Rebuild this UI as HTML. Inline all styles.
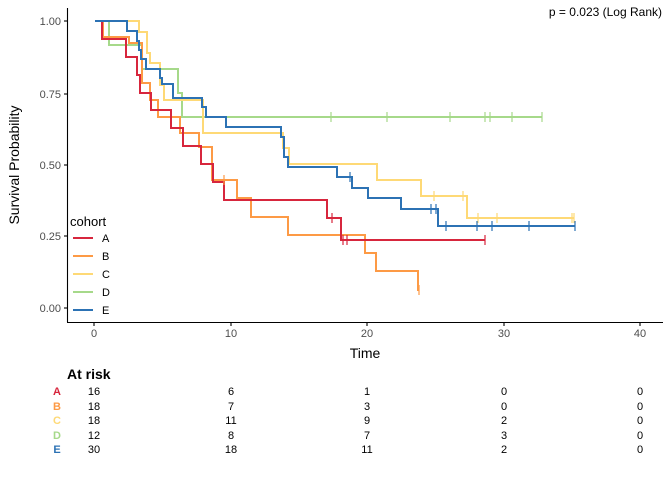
<!DOCTYPE html><html><head><meta charset="utf-8"><style>body{margin:0;background:#fff}svg{display:block;font-family:"Liberation Sans",sans-serif}</style></head><body>
<svg width="672" height="480" viewBox="0 0 672 480">
<g stroke="#000" stroke-width="1.1" fill="none">
<line x1="67.5" y1="8" x2="67.5" y2="322"/><line x1="67" y1="322.5" x2="663" y2="322.5"/>
<line x1="64" y1="21" x2="67" y2="21"/><line x1="64" y1="94" x2="67" y2="94"/><line x1="64" y1="165" x2="67" y2="165"/><line x1="64" y1="236" x2="67" y2="236"/><line x1="64" y1="308" x2="67" y2="308"/>
<line x1="94" y1="322" x2="94" y2="326"/><line x1="231" y1="322" x2="231" y2="326"/><line x1="367" y1="322" x2="367" y2="326"/><line x1="504" y1="322" x2="504" y2="326"/><line x1="640" y1="322" x2="640" y2="326"/>
</g>
<g font-size="11" fill="#4d4d4d" text-anchor="end"><text x="61" y="25">1.00</text><text x="61" y="98">0.75</text><text x="61" y="169">0.50</text><text x="61" y="240">0.25</text><text x="61" y="312">0.00</text></g>
<g font-size="11" fill="#4d4d4d" text-anchor="middle"><text x="94" y="337">0</text><text x="231" y="337">10</text><text x="367" y="337">20</text><text x="504" y="337">30</text><text x="640" y="337">40</text></g>
<text x="365" y="358" font-size="14" text-anchor="middle">Time</text>
<text transform="translate(19,165) rotate(-90)" font-size="14" text-anchor="middle">Survival Probability</text>
<text x="662" y="16" font-size="12" text-anchor="end">p = 0.023 (Log Rank)</text>
<g fill="none" stroke-width="2">
<path stroke="#a6d98a" d="M95,21H109V45H142V69H178V93H182V117H542"/>
<path stroke="#fed976" d="M95,21H139V32H147V53H150V63H160V85H164V100H203V133H283V148H289V164H377V180H421V196H467V218H574"/>
<path stroke="#fd9a45" d="M95,21H103V37H129V43H142V83H150V100H158V117H180V133H199V147H212V180H237V198H251V217H288V235H365V253H376V271H418V290H419"/>
<path stroke="#d7263d" d="M95,21H102V39H126V57H137V75H140V93H151V110H171V128H183V146H201V164H213V182H224V200H327V218H341V240H485"/>
<path stroke="#2c72b4" d="M95,21H127V31H137V41H139V50H141V59H146V69H160V78H162V84H173V98H202V107H206V117H226V127H281V137H284V157H288V167H337V177H352V188H368V198H401V209H438V226H575"/>
</g>
<g stroke-width="1.2">
<path stroke="#a6d98a" d="M331,112v10M387,112v10M450,112v10M485,112v10M490,112v10M512,112v10M542,112v10"/>
<path stroke="#fed976" d="M434,191v10M463,191v10M478,213v10M497,213v10M572,213v10M574,213v10"/>
<path stroke="#2c72b4" d="M350,172v10M431,204v10M436,204v10M446,221v10M477,221v10M492,221v10M529,221v10M575,221v10"/>
<path stroke="#d7263d" d="M332,213v10M343,235v10M347,235v10M485,235v10"/>
<path stroke="#fd9a45" d="M224,175v10M419,285v10"/>
</g>
<text x="70" y="226" font-size="13">cohort</text>
<g stroke-width="2"><line x1="73" x2="93" y1="238" y2="238" stroke="#d7263d"/><line x1="73" x2="93" y1="256" y2="256" stroke="#fd9a45"/><line x1="73" x2="93" y1="274" y2="274" stroke="#fed976"/><line x1="73" x2="93" y1="292" y2="292" stroke="#a6d98a"/><line x1="73" x2="93" y1="310" y2="310" stroke="#2c72b4"/></g>
<g font-size="11"><text x="102" y="242">A</text><text x="102" y="260">B</text><text x="102" y="278">C</text><text x="102" y="296">D</text><text x="102" y="314">E</text></g>
<text x="67" y="379" font-size="14" font-weight="bold">At risk</text>
<g font-size="11" font-weight="bold" text-anchor="middle"><text x="57" y="395" fill="#d7263d">A</text><text x="57" y="410" fill="#fd9a45">B</text><text x="57" y="424" fill="#fed976">C</text><text x="57" y="439" fill="#a6d98a">D</text><text x="57" y="453" fill="#2c72b4">E</text></g>
<g font-size="11" text-anchor="middle">
<text y="395"><tspan x="94">16</tspan><tspan x="231">6</tspan><tspan x="367">1</tspan><tspan x="504">0</tspan><tspan x="640">0</tspan></text>
<text y="410"><tspan x="94">18</tspan><tspan x="231">7</tspan><tspan x="367">3</tspan><tspan x="504">0</tspan><tspan x="640">0</tspan></text>
<text y="424"><tspan x="94">18</tspan><tspan x="231">11</tspan><tspan x="367">9</tspan><tspan x="504">2</tspan><tspan x="640">0</tspan></text>
<text y="439"><tspan x="94">12</tspan><tspan x="231">8</tspan><tspan x="367">7</tspan><tspan x="504">3</tspan><tspan x="640">0</tspan></text>
<text y="453"><tspan x="94">30</tspan><tspan x="231">18</tspan><tspan x="367">11</tspan><tspan x="504">2</tspan><tspan x="640">0</tspan></text>
</g>
</svg></body></html>
